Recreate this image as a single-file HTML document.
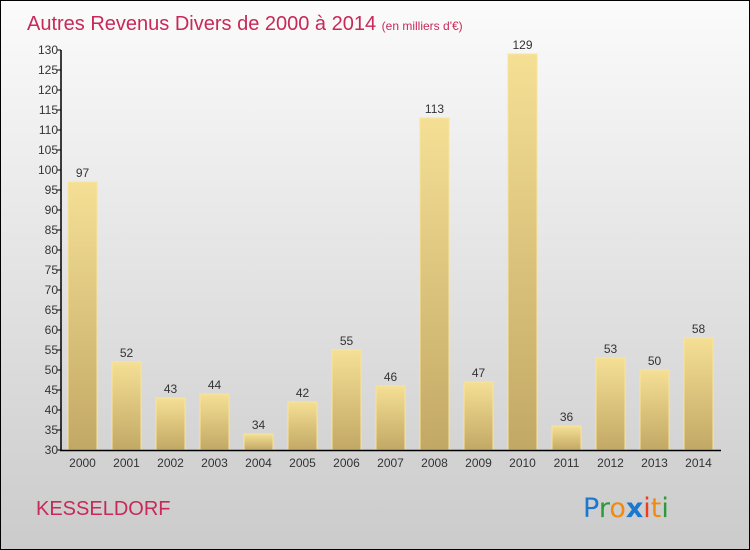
<!DOCTYPE html>
<html><head><meta charset="utf-8"><style>
body{margin:0}
#wrap{position:relative;width:748px;height:548px;border:1px solid #000;background:linear-gradient(#fbfbfb,#cbcbcb);overflow:hidden;font-family:"Liberation Sans",sans-serif}
</style></head><body>
<div id="wrap">
<svg id="c" width="748" height="548">
<defs><linearGradient id="bg" x1="0" y1="0" x2="0" y2="1"><stop offset="0" stop-color="#f5df95"/><stop offset="1" stop-color="#c2a865"/></linearGradient></defs>
<text x="26" y="29" font-size="20" fill="#c8285a">Autres Revenus Divers de 2000 à 2014 <tspan font-size="12">(en milliers d'€)</tspan></text>
<text x="35" y="514" font-size="20" fill="#c8285a">KESSELDORF</text>
<g font-size="27" font-family="'DejaVu Sans',sans-serif">
<text x="582" y="516"><tspan fill="#1a78d0">P</tspan><tspan fill="#2a9a3a">r</tspan><tspan fill="#f08a10">o</tspan><tspan fill="#1a78d0" font-weight="bold">x</tspan><tspan fill="#ee3a1e">i</tspan><tspan fill="#f08a10">t</tspan><tspan fill="#2a9a3a">i</tspan></text></g>
</svg></div>
<script>
const categories=["2000","2001","2002","2003","2004","2005","2006","2007","2008","2009","2010","2011","2012","2013","2014"];
const values=[97,52,43,44,34,42,55,46,113,47,129,36,53,50,58];
const yTicks=[30,35,40,45,50,55,60,65,70,75,80,85,90,95,100,105,110,115,120,125,130];
const svg=document.getElementById('c');const NS='http://www.w3.org/2000/svg';
const y=v=>449-(v-30)*4; const x=i=>81.5+i*44;
function mk(t,a){const e=document.createElementNS(NS,t);for(const k in a)e.setAttribute(k,a[k]);svg.appendChild(e);return e;}
categories.forEach((c,i)=>{
 const r=mk('rect',{x:x(i)-14.5,y:y(values[i]),width:29,height:449-y(values[i]),fill:'url(#bg)',stroke:'#f8e59a','stroke-width':1});
 
 
 const t=mk('text',{x:x(i),y:y(values[i])-5,'font-size':12,fill:'#333','text-anchor':'middle'});t.textContent=values[i];
 
 
 const l=mk('text',{x:x(i),y:466,'font-size':12,fill:'#333','text-anchor':'middle'});l.textContent=c;
 
 
});
yTicks.forEach(v=>{
 mk('line',{x1:56,x2:60,y1:y(v),y2:y(v),stroke:'#000'});
 const t=mk('text',{x:57,y:y(v)+4,'font-size':12,fill:'#333','text-anchor':'end'});t.textContent=v;
 
 
});
const ya=mk('line',{x1:60,x2:60,y1:y(130),y2:450,stroke:'#000','stroke-width':1.5});


const xa=mk('line',{x1:59,x2:720,y1:449.5,y2:449.5,stroke:'#000','stroke-width':1.5});


</script>
</body></html>
